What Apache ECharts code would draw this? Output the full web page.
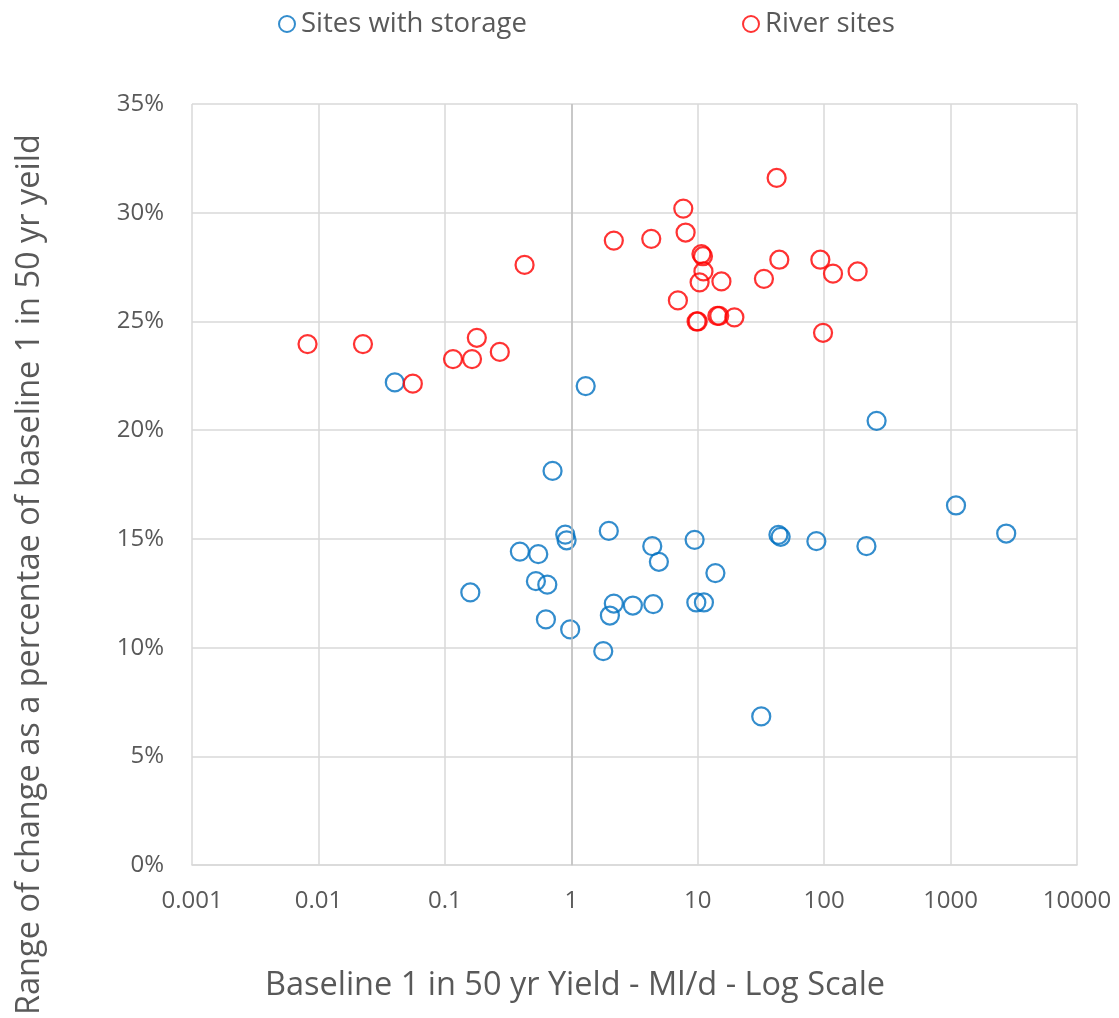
<!DOCTYPE html>
<html>
<head>
<meta charset="utf-8">
<script src="https://cdn.jsdelivr.net/npm/echarts@6/dist/echarts.min.js"></script>
<style>
html,body{margin:0;padding:0;background:#fff;}
#chart{width:1119px;height:1018px;}
</style>
</head>
<body>
<div id="chart"></div>
<script>
// Series names
var seriesNames = ['Sites with storage', 'River sites'];

// Sites with storage: [yield Ml/d, range of change %]
var storageSites = [
  [0.0402, 22.2], [1.30, 22.03], [0.711, 18.13], [0.896, 15.2], [0.918, 14.94],
  [1.98, 15.37], [0.392, 14.42], [0.548, 14.3], [0.525, 13.06], [0.646, 12.9],
  [0.159, 12.54], [2.17, 12.03], [3.07, 11.94], [2.02, 11.48], [0.63, 11.3],
  [0.98, 10.84], [1.79, 9.84], [260, 20.43], [1104, 16.54], [2755, 15.25],
  [43.5, 15.19], [45.3, 15.1], [86.8, 14.9], [216, 14.67], [9.45, 14.96],
  [4.37, 14.67], [4.93, 13.95], [13.8, 13.43], [4.45, 12.0], [9.75, 12.08],
  [11.2, 12.08], [31.8, 6.84]
];

// River sites: [yield Ml/d, range of change %]
var riverSites = [
  [0.0082, 23.96], [0.0225, 23.96], [0.0558, 22.14], [0.179, 24.25], [0.116, 23.27],
  [0.164, 23.27], [0.272, 23.6], [0.427, 27.6], [2.17, 28.72], [42.1, 31.6],
  [7.69, 30.19], [4.29, 28.8], [8.02, 29.09], [10.7, 28.1], [11.0, 28.0],
  [11.1, 27.3], [10.35, 26.8], [15.4, 26.84], [6.97, 25.97], [9.8, 25.0],
  [10.0, 25.0], [14.3, 25.26], [14.8, 25.26], [19.5, 25.19], [33.4, 26.96],
  [44.2, 27.84], [93.3, 27.84], [117.5, 27.2], [184, 27.3], [98, 24.48]
];

// Tick labels
var xTickLabels = ['0.001', '0.01', '0.1', '1', '10', '100', '1000', '10000'];
var yTickLabels = ['0%', '5%', '10%', '15%', '20%', '25%', '30%', '35%'];

// Axis titles
var xTitle = 'Baseline 1 in 50 yr Yield - Ml/d - Log Scale';
var yTitle = 'Range of change as a percentae of baseline 1 in 50 yr yeild';

var FONT = '"Open Sans", Lato, sans-serif';
var TXT = '#595959';
var GRID = '#d9d9d9';
var BLUE = '#0070C0';
var RED = '#FF0000';

var chart = echarts.init(document.getElementById('chart'), null, {renderer: 'canvas'});

var legendText = {fontFamily: FONT, fontSize: 27.5, color: TXT, padding: [0, 0, 0, 1]};

chart.setOption({
  animation: false,
  backgroundColor: '#ffffff',
  textStyle: {fontFamily: FONT},
  legend: [
    {
      data: [seriesNames[0]],
      left: 273, top: 5,
      itemWidth: 16, itemHeight: 16,
      icon: 'circle',
      textStyle: legendText,
      selectedMode: false
    },
    {
      data: [seriesNames[1]],
      left: 737, top: 5,
      itemWidth: 16, itemHeight: 16,
      icon: 'circle',
      textStyle: legendText,
      selectedMode: false
    }
  ],
  grid: {left: 192, right: 42, top: 104, bottom: 152, containLabel: false},
  xAxis: {
    type: 'log',
    logBase: 10,
    min: 0.001,
    max: 10000,
    name: xTitle,
    nameLocation: 'middle',
    nameGap: 104,
    nameTextStyle: {fontFamily: FONT, fontSize: 32.5, color: TXT, padding: [0, 119, 0, 0]},
    axisLine: {show: true, lineStyle: {color: GRID, width: 1.5}},
    axisTick: {show: false},
    splitLine: {show: true, lineStyle: {color: GRID, width: 1.5}},
    axisLabel: {
      fontFamily: FONT, fontSize: 24, color: TXT, margin: 24,
      formatter: function (v) {
        var i = Math.round(Math.log10(v)) + 3;
        return xTickLabels[i];
      }
    }
  },
  yAxis: {
    type: 'value',
    min: 0,
    max: 35,
    interval: 5,
    name: yTitle,
    nameLocation: 'middle',
    nameGap: 146,
    nameTextStyle: {fontFamily: FONT, fontSize: 32.5, color: TXT, padding: [0, 180, 0, 0]},
    axisLine: {show: false},
    axisTick: {show: false},
    splitLine: {show: true, lineStyle: {color: GRID, width: 1.5}},
    axisLabel: {
      fontFamily: FONT, fontSize: 24, color: TXT, margin: 28,
      formatter: function (v) {
        return yTickLabels[Math.round(v / 5)];
      }
    }
  },
  series: [
    {
      name: seriesNames[0],
      type: 'scatter',
      symbol: 'circle',
      symbolSize: 18,
      itemStyle: {color: 'rgba(255,255,255,0)', borderColor: BLUE, borderWidth: 2.25},
      data: storageSites,
      markLine: {
        silent: true,
        symbol: ['none', 'none'],
        label: {show: false},
        lineStyle: {color: '#bfbfbf', width: 1.5, type: 'solid'},
        data: [{xAxis: 1}]
      },
      z: 2
    },
    {
      name: seriesNames[1],
      type: 'scatter',
      symbol: 'circle',
      symbolSize: 18,
      itemStyle: {color: 'rgba(255,255,255,0)', borderColor: RED, borderWidth: 2.25},
      data: riverSites,
      z: 3
    }
  ]
});
</script>
</body>
</html>
